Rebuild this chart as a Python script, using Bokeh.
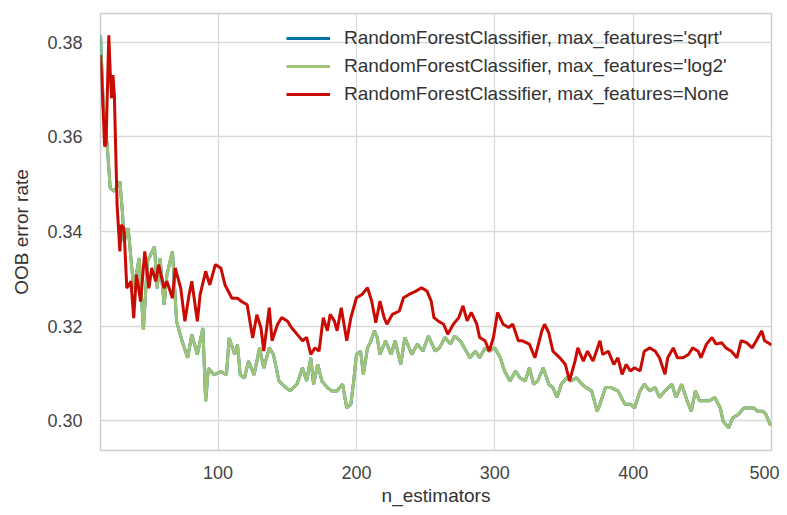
from bokeh.plotting import figure
from bokeh.models import Legend, LegendItem, FixedTicker, NumeralTickFormatter, Range1d
from bokeh.embed import file_html
from bokeh.resources import INLINE

# ---- data ----
n_est_none = [15, 16, 18, 19, 21, 22, 23, 24, 25, 27, 29, 30, 32, 34, 37, 39, 41, 44, 47, 50,
              52, 55, 57, 61, 63, 67, 69, 73, 76, 79, 81, 85, 87, 91, 94, 98, 102, 105, 110, 114,
              117, 121, 125, 128, 131, 133, 137, 139, 143, 146, 150, 153, 157, 161, 164, 167, 170, 173, 176, 179,
              181, 184, 186, 189, 193, 196, 200, 204, 208, 211, 214, 217, 220, 222, 226, 231, 234, 238, 243, 247,
              251, 254, 256, 259, 263, 266, 270, 274, 277, 280, 283, 287, 289, 293, 296, 299, 302, 306, 310, 313,
              317, 320, 325, 329, 334, 336, 339, 342, 347, 351, 354, 358, 360, 364, 367, 371, 376, 378, 382, 386,
              389, 392, 395, 398, 401, 405, 408, 412, 416, 419, 423, 425, 429, 432, 436, 440, 443, 447, 449, 453,
              457, 460, 464, 467, 471, 475, 478, 482, 486, 489, 493, 495, 499, 500]
oob_none = [0.3773, 0.3720, 0.3580, 0.3585, 0.3815, 0.3738, 0.3682, 0.3731, 0.3689, 0.3456, 0.3358, 0.3414, 0.3407, 0.3280, 0.3295, 0.3217, 0.3309, 0.3252, 0.3358, 0.3280,
            0.3323, 0.3295, 0.3330, 0.3280, 0.3295, 0.3259, 0.3323, 0.3280, 0.3210, 0.3266, 0.3295, 0.3210, 0.3266, 0.3316, 0.3287, 0.3330, 0.3323, 0.3287, 0.3259, 0.3259,
            0.3252, 0.3245, 0.3175, 0.3224, 0.3196, 0.3147, 0.3239, 0.3169, 0.3204, 0.3218, 0.3211, 0.3197, 0.3183, 0.3169, 0.3176, 0.3140, 0.3154, 0.3147, 0.3218, 0.3190,
            0.3225, 0.3211, 0.3190, 0.3239, 0.3169, 0.3218, 0.3260, 0.3267, 0.3281, 0.3253, 0.3207, 0.3253, 0.3218, 0.3204, 0.3225, 0.3232, 0.3260, 0.3267, 0.3274, 0.3281,
            0.3274, 0.3253, 0.3218, 0.3211, 0.3204, 0.3183, 0.3204, 0.3218, 0.3243, 0.3211, 0.3229, 0.3204, 0.3176, 0.3169, 0.3147, 0.3176, 0.3229, 0.3204, 0.3197, 0.3204,
            0.3169, 0.3169, 0.3162, 0.3133, 0.3190, 0.3204, 0.3186, 0.3147, 0.3133, 0.3119, 0.3084, 0.3126, 0.3154, 0.3126, 0.3147, 0.3126, 0.3169, 0.3140, 0.3147, 0.3119,
            0.3133, 0.3098, 0.3119, 0.3105, 0.3112, 0.3105, 0.3147, 0.3154, 0.3147, 0.3133, 0.3098, 0.3133, 0.3154, 0.3133, 0.3133, 0.3140, 0.3154, 0.3147, 0.3133, 0.3162,
            0.3176, 0.3162, 0.3165, 0.3154, 0.3147, 0.3133, 0.3169, 0.3165, 0.3154, 0.3169, 0.3190, 0.3169, 0.3162, 0.3160]

n_est_log2 = [15, 17, 20, 22, 25, 29, 31, 32, 35, 39, 43, 46, 49, 54, 56, 58, 61, 63, 67, 70,
              74, 78, 81, 85, 89, 91, 93, 97, 102, 106, 108, 112, 114, 116, 119, 122, 126, 130, 133, 137,
              140, 144, 149, 152, 157, 161, 164, 167, 169, 172, 175, 179, 182, 186, 190, 193, 196, 198, 200, 203,
              205, 208, 210, 213, 215, 217, 221, 225, 228, 232, 235, 240, 244, 248, 252, 257, 260, 264, 268, 271,
              275, 278, 282, 286, 289, 293, 296, 300, 304, 307, 311, 315, 318, 322, 325, 328, 331, 335, 339, 342,
              345, 348, 352, 355, 359, 363, 366, 370, 374, 376, 380, 384, 389, 394, 398, 401, 405, 408, 412, 416,
              419, 423, 428, 431, 435, 439, 442, 445, 448, 452, 455, 459, 463, 465, 469, 472, 476, 480, 483, 487,
              490, 494, 496, 499, 500]
oob_log2 = [0.3815, 0.3668, 0.3576, 0.3492, 0.3485, 0.3506, 0.3435, 0.3379, 0.3407, 0.3280, 0.3344, 0.3192, 0.3337, 0.3368, 0.3280, 0.3344, 0.3245, 0.3309, 0.3358, 0.3210,
            0.3168, 0.3133, 0.3182, 0.3140, 0.3196, 0.3041, 0.3111, 0.3097, 0.3104, 0.3097, 0.3175, 0.3140, 0.3161, 0.3097, 0.3090, 0.3126, 0.3097, 0.3154, 0.3111, 0.3154,
            0.3140, 0.3084, 0.3070, 0.3063, 0.3077, 0.3112, 0.3084, 0.3133, 0.3077, 0.3119, 0.3084, 0.3070, 0.3063, 0.3063, 0.3077, 0.3027, 0.3035, 0.3084, 0.3140, 0.3147,
            0.3098, 0.3154, 0.3165, 0.3190, 0.3176, 0.3140, 0.3169, 0.3140, 0.3169, 0.3119, 0.3176, 0.3140, 0.3162, 0.3147, 0.3179, 0.3147, 0.3154, 0.3176, 0.3162, 0.3179,
            0.3169, 0.3154, 0.3133, 0.3147, 0.3133, 0.3154, 0.3147, 0.3154, 0.3133, 0.3105, 0.3084, 0.3105, 0.3091, 0.3084, 0.3112, 0.3077, 0.3084, 0.3112, 0.3077, 0.3070,
            0.3049, 0.3077, 0.3091, 0.3084, 0.3091, 0.3077, 0.3070, 0.3063, 0.3020, 0.3035, 0.3070, 0.3070, 0.3063, 0.3035, 0.3035, 0.3027, 0.3063, 0.3077, 0.3063, 0.3070,
            0.3049, 0.3063, 0.3077, 0.3049, 0.3077, 0.3042, 0.3020, 0.3063, 0.3042, 0.3042, 0.3042, 0.3049, 0.3027, 0.2999, 0.2985, 0.3006, 0.3013, 0.3027, 0.3027, 0.3027,
            0.3020, 0.3020, 0.3013, 0.2992, 0.2992]

# the 'sqrt' curve is hidden exactly under the 'log2' curve in the reference
n_est_sqrt = list(n_est_log2)
oob_sqrt = list(oob_log2)

x_ticks = [100, 200, 300, 400, 500]
y_ticks = [0.30, 0.32, 0.34, 0.36, 0.38]
labels = ["RandomForestClassifier, max_features='sqrt'",
          "RandomForestClassifier, max_features='log2'",
          "RandomForestClassifier, max_features=None"]
colors = ["#0272a2", "#9fc377", "#ca0b03"]

FONT = "Liberation Sans"

p = figure(width=779, height=510, output_backend="svg", toolbar_location=None,
           x_range=Range1d(15, 500), y_range=Range1d(0.2937, 0.3861),
           min_border_left=100, min_border_right=8, min_border_top=13, min_border_bottom=60)
p.background_fill_color = "white"
p.border_fill_color = "white"
p.outline_line_color = "#cfcfcf"
p.outline_line_width = 1.5

r1 = p.line(n_est_sqrt, oob_sqrt, line_color=colors[0], line_width=3)
r2 = p.line(n_est_log2, oob_log2, line_color=colors[1], line_width=3)
r3 = p.line(n_est_none, oob_none, line_color=colors[2], line_width=3)

for ax in (p.xaxis[0], p.yaxis[0]):
    ax.axis_line_color = None
    ax.major_tick_line_color = None
    ax.minor_tick_line_color = None
    ax.major_label_text_font = FONT
    ax.major_label_text_font_size = "18px"
    ax.major_label_text_color = "#444444"
    ax.axis_label_text_font = FONT
    ax.axis_label_text_font_size = "19px"
    ax.axis_label_text_font_style = "normal"
    ax.axis_label_text_color = "#333333"

p.xaxis.ticker = FixedTicker(ticks=x_ticks)
p.yaxis.ticker = FixedTicker(ticks=y_ticks)
p.yaxis.formatter = NumeralTickFormatter(format="0.00")
p.xaxis.axis_label = "n_estimators"
p.yaxis.axis_label = "OOB error rate"
p.xaxis.major_label_standoff = 9
p.yaxis.major_label_standoff = 12
p.xaxis.axis_label_standoff = 3
p.yaxis.axis_label_standoff = 12

p.grid.grid_line_color = "#d9d9d9"
p.grid.grid_line_width = 1.3

legend = Legend(items=[LegendItem(label=labels[0], renderers=[r1]),
                       LegendItem(label=labels[1], renderers=[r2]),
                       LegendItem(label=labels[2], renderers=[r3])],
                location=(186, 345))
legend.background_fill_alpha = 0
legend.border_line_alpha = 0
legend.padding = 0
legend.margin = 0
legend.spacing = 6
legend.glyph_width = 44
legend.glyph_height = 22
legend.label_height = 22
legend.label_standoff = 14
legend.label_text_font = FONT
legend.label_text_font_size = "19px"
legend.label_text_color = "#333333"
p.add_layout(legend, "center")

open("out.html", "w").write(file_html(p, INLINE))
